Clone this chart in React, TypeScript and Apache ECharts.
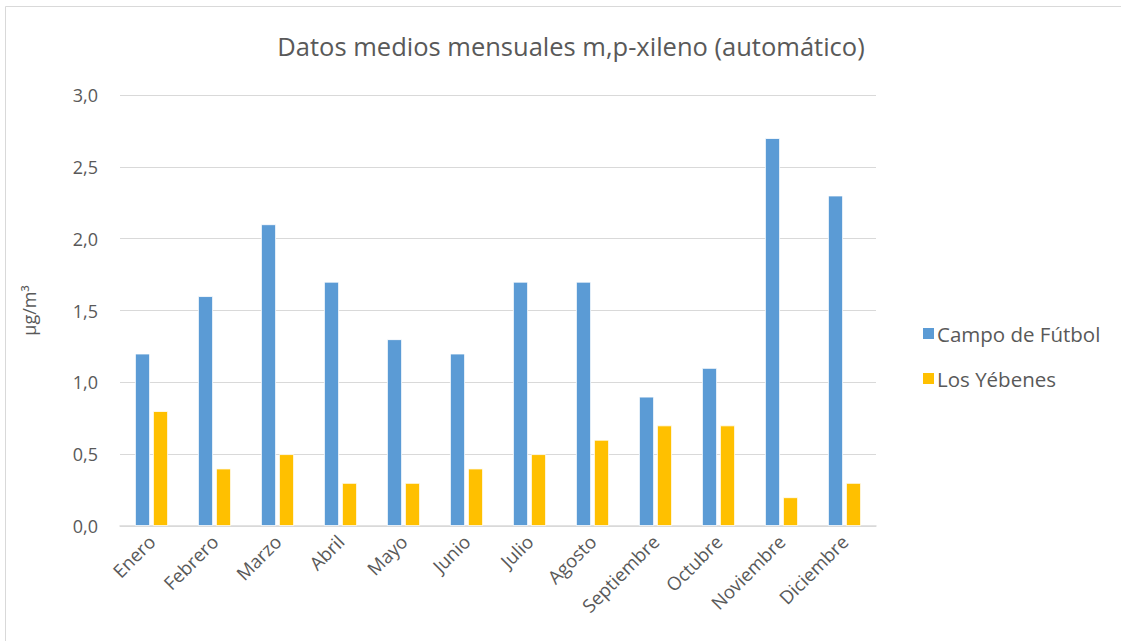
import React, { useEffect, useRef } from "react";
import * as echarts from "echarts";

const months = [
  "Enero", "Febrero", "Marzo", "Abril", "Mayo", "Junio",
  "Julio", "Agosto", "Septiembre", "Octubre", "Noviembre", "Diciembre",
];
const campoDeFutbol = [1.2, 1.6, 2.1, 1.7, 1.3, 1.2, 1.7, 1.7, 0.9, 1.1, 2.7, 2.3];
const losYebenes = [0.8, 0.4, 0.5, 0.3, 0.3, 0.4, 0.5, 0.6, 0.7, 0.7, 0.2, 0.3];
const seriesNames = ["Campo de Fútbol", "Los Yébenes"];

const FONT = "'Open Sans', 'Noto Sans', sans-serif";
const TEXT = "#595959";

export default function App() {
  const ref = useRef<HTMLDivElement>(null);

  useEffect(() => {
    if (!ref.current) return;
    const chart = echarts.init(ref.current, undefined, { renderer: "svg" });
    chart.setOption({
      animation: false,
      backgroundColor: "#ffffff",
      title: {
        text: "Datos medios mensuales m,p-xileno (automático)",
        left: 566,
        top: 28,
        textAlign: "center",
        textStyle: { fontFamily: FONT, fontSize: 25.5, fontWeight: "normal", color: TEXT },
      },
      graphic: [
        {
          type: "rect",
          shape: { x: 5.5, y: 6.5, width: 1130, height: 650 },
          style: { fill: "none", stroke: "#d9d9d9", lineWidth: 1 },
          silent: true,
        },
      ],
      legend: {
        orient: "vertical",
        left: 916,
        top: 318,
        itemWidth: 13,
        itemHeight: 13,
        itemGap: 24,
        icon: "rect",
        data: seriesNames,
        textStyle: { fontFamily: FONT, fontSize: 20.5, color: TEXT, padding: [0, 0, 0, -3] },
      },
      grid: { left: 120, right: 245, top: 95, bottom: 115 },
      xAxis: {
        type: "category",
        data: months,
        axisLine: { lineStyle: { color: "#d9d9d9", width: 1.5 } },
        axisTick: { show: false },
        axisLabel: {
          rotate: 45,
          interval: 0,
          margin: 12,
          fontFamily: FONT,
          fontSize: 18.5,
          color: TEXT,
        },
      },
      yAxis: {
        type: "value",
        min: 0,
        max: 3,
        interval: 0.5,
        name: "µg/m³",
        nameLocation: "middle",
        nameRotate: 90,
        nameGap: 82,
        nameTextStyle: { fontFamily: FONT, fontSize: 18, color: TEXT },
        axisLine: { show: false },
        axisTick: { show: false },
        splitLine: { lineStyle: { color: "#d9d9d9", width: 1.2 } },
        axisLabel: {
          margin: 22,
          fontFamily: FONT,
          fontSize: 18,
          color: TEXT,
          formatter: (v: number) => v.toFixed(1).replace(".", ","),
        },
      },
      series: [
        {
          name: seriesNames[0],
          type: "bar",
          data: campoDeFutbol,
          barWidth: 15,
          barGap: "20%",
          itemStyle: { color: "#5B9BD5", borderColor: "#ffffff", borderWidth: 0.8 },
        },
        {
          name: seriesNames[1],
          type: "bar",
          data: losYebenes,
          barWidth: 15,
          barGap: "20%",
          itemStyle: { color: "#FFC000", borderColor: "#ffffff", borderWidth: 0.8 },
        },
      ],
    });
    return () => chart.dispose();
  }, []);

  return (
    <div
      ref={ref}
      style={{ position: "fixed", left: 0, top: 0, width: 1121, height: 641 }}
    />
  );
}
